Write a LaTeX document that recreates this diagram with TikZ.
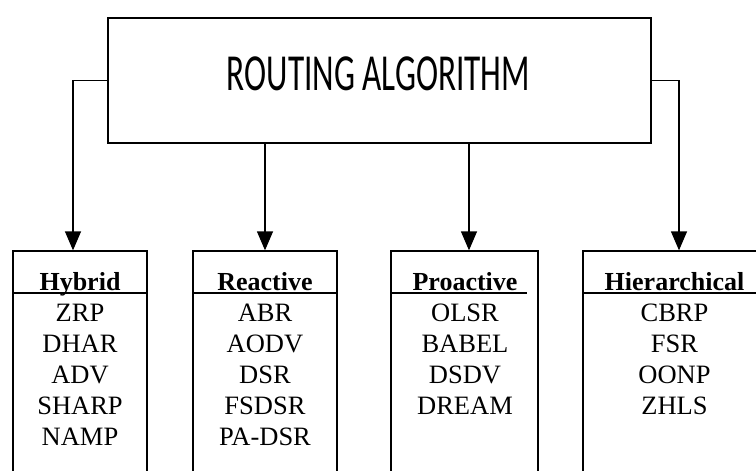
\documentclass[tikz,border=0pt]{standalone}
\usepackage{fontspec}
\setmainfont{Liberation Serif}
\newfontfamily\titlefont{Carlito}
\usetikzlibrary{arrows.meta}
\tikzset{
  box/.style={draw, line width=1.3pt, inner sep=0pt, rectangle},
  rule/.style={line width=1.3pt},
  conn/.style={line width=1.3pt, -{Triangle[length=19pt,width=16pt]}},
  head/.style={font=\fontsize{26}{26}\selectfont\bfseries, anchor=base, inner sep=0pt},
  item/.style={font=\fontsize{26.5}{26.5}\selectfont, anchor=base, inner sep=0pt},
}
\begin{document}
\begin{tikzpicture}[x=1pt,y=-1pt]
\useasboundingbox (0,0) rectangle (756,471);
\begin{scope}
\clip (0,0) rectangle (756,471);
% root
\node[box, minimum width=543pt, minimum height=125pt] (root) at (379.5,80.5) {};
\node[anchor=base, inner sep=0pt, font=\titlefont\fontsize{52}{52}\selectfont] (title) at (378.5,90) {\scalebox{0.64}[1]{ROUTING ALGORITHM}};
% category boxes
\node[box, minimum width=134pt, minimum height=269pt] (hyb) at (80,385.5) {};
\node[box, minimum width=144pt, minimum height=269pt] (rea) at (265,385.5) {};
\node[box, minimum width=147pt, minimum height=269pt] (pro) at (464.5,385.5) {};
\node[box, minimum width=183pt, minimum height=269pt] (hie) at (674.5,385.5) {};
% dividers
\draw[rule] (hyb.west |- 0,293) -- (hyb.east |- 0,293);
\draw[rule] (rea.west |- 0,293) -- (rea.east |- 0,293);
\draw[rule] (pro.west |- 0,293) -- (527,293);
\draw[rule] (hie.west |- 0,293) -- (hie.east |- 0,293);
% connectors
\draw[conn] (root.west) -| (hyb.north -| 73,0);
\draw[conn] (root.south -| 265,0) -- (rea.north -| 265,0);
\draw[conn] (root.south -| 469,0) -- (pro.north -| 469,0);
\draw[conn] (root.east) -| (hie.north -| 679,0);
% headers
\node[head] (hybh) at (80,290) {Hybrid};
\node[head] (reah) at (265,290) {Reactive};
\node[head] (proh) at (465,290) {Proactive};
\node[head] (hieh) at (674.5,290) {Hierarchical};
% items
\foreach \t [count=\i] in {ZRP,DHAR,ADV,SHARP,NAMP}
  \node[item] (hyb\i) at (80,{321+31.2*(\i-1)}) {\t};
\foreach \t [count=\i] in {ABR,AODV,DSR,FSDSR,PA-DSR}
  \node[item] (rea\i) at (265,{321+31.2*(\i-1)}) {\t};
\foreach \t [count=\i] in {OLSR,BABEL,DSDV,DREAM}
  \node[item] (pro\i) at (465,{321+31.2*(\i-1)}) {\t};
\foreach \t [count=\i] in {CBRP,FSR,OONP,ZHLS}
  \node[item] (hie\i) at (674.5,{321+31.2*(\i-1)}) {\t};
\end{scope}
\end{tikzpicture}
\end{document}
